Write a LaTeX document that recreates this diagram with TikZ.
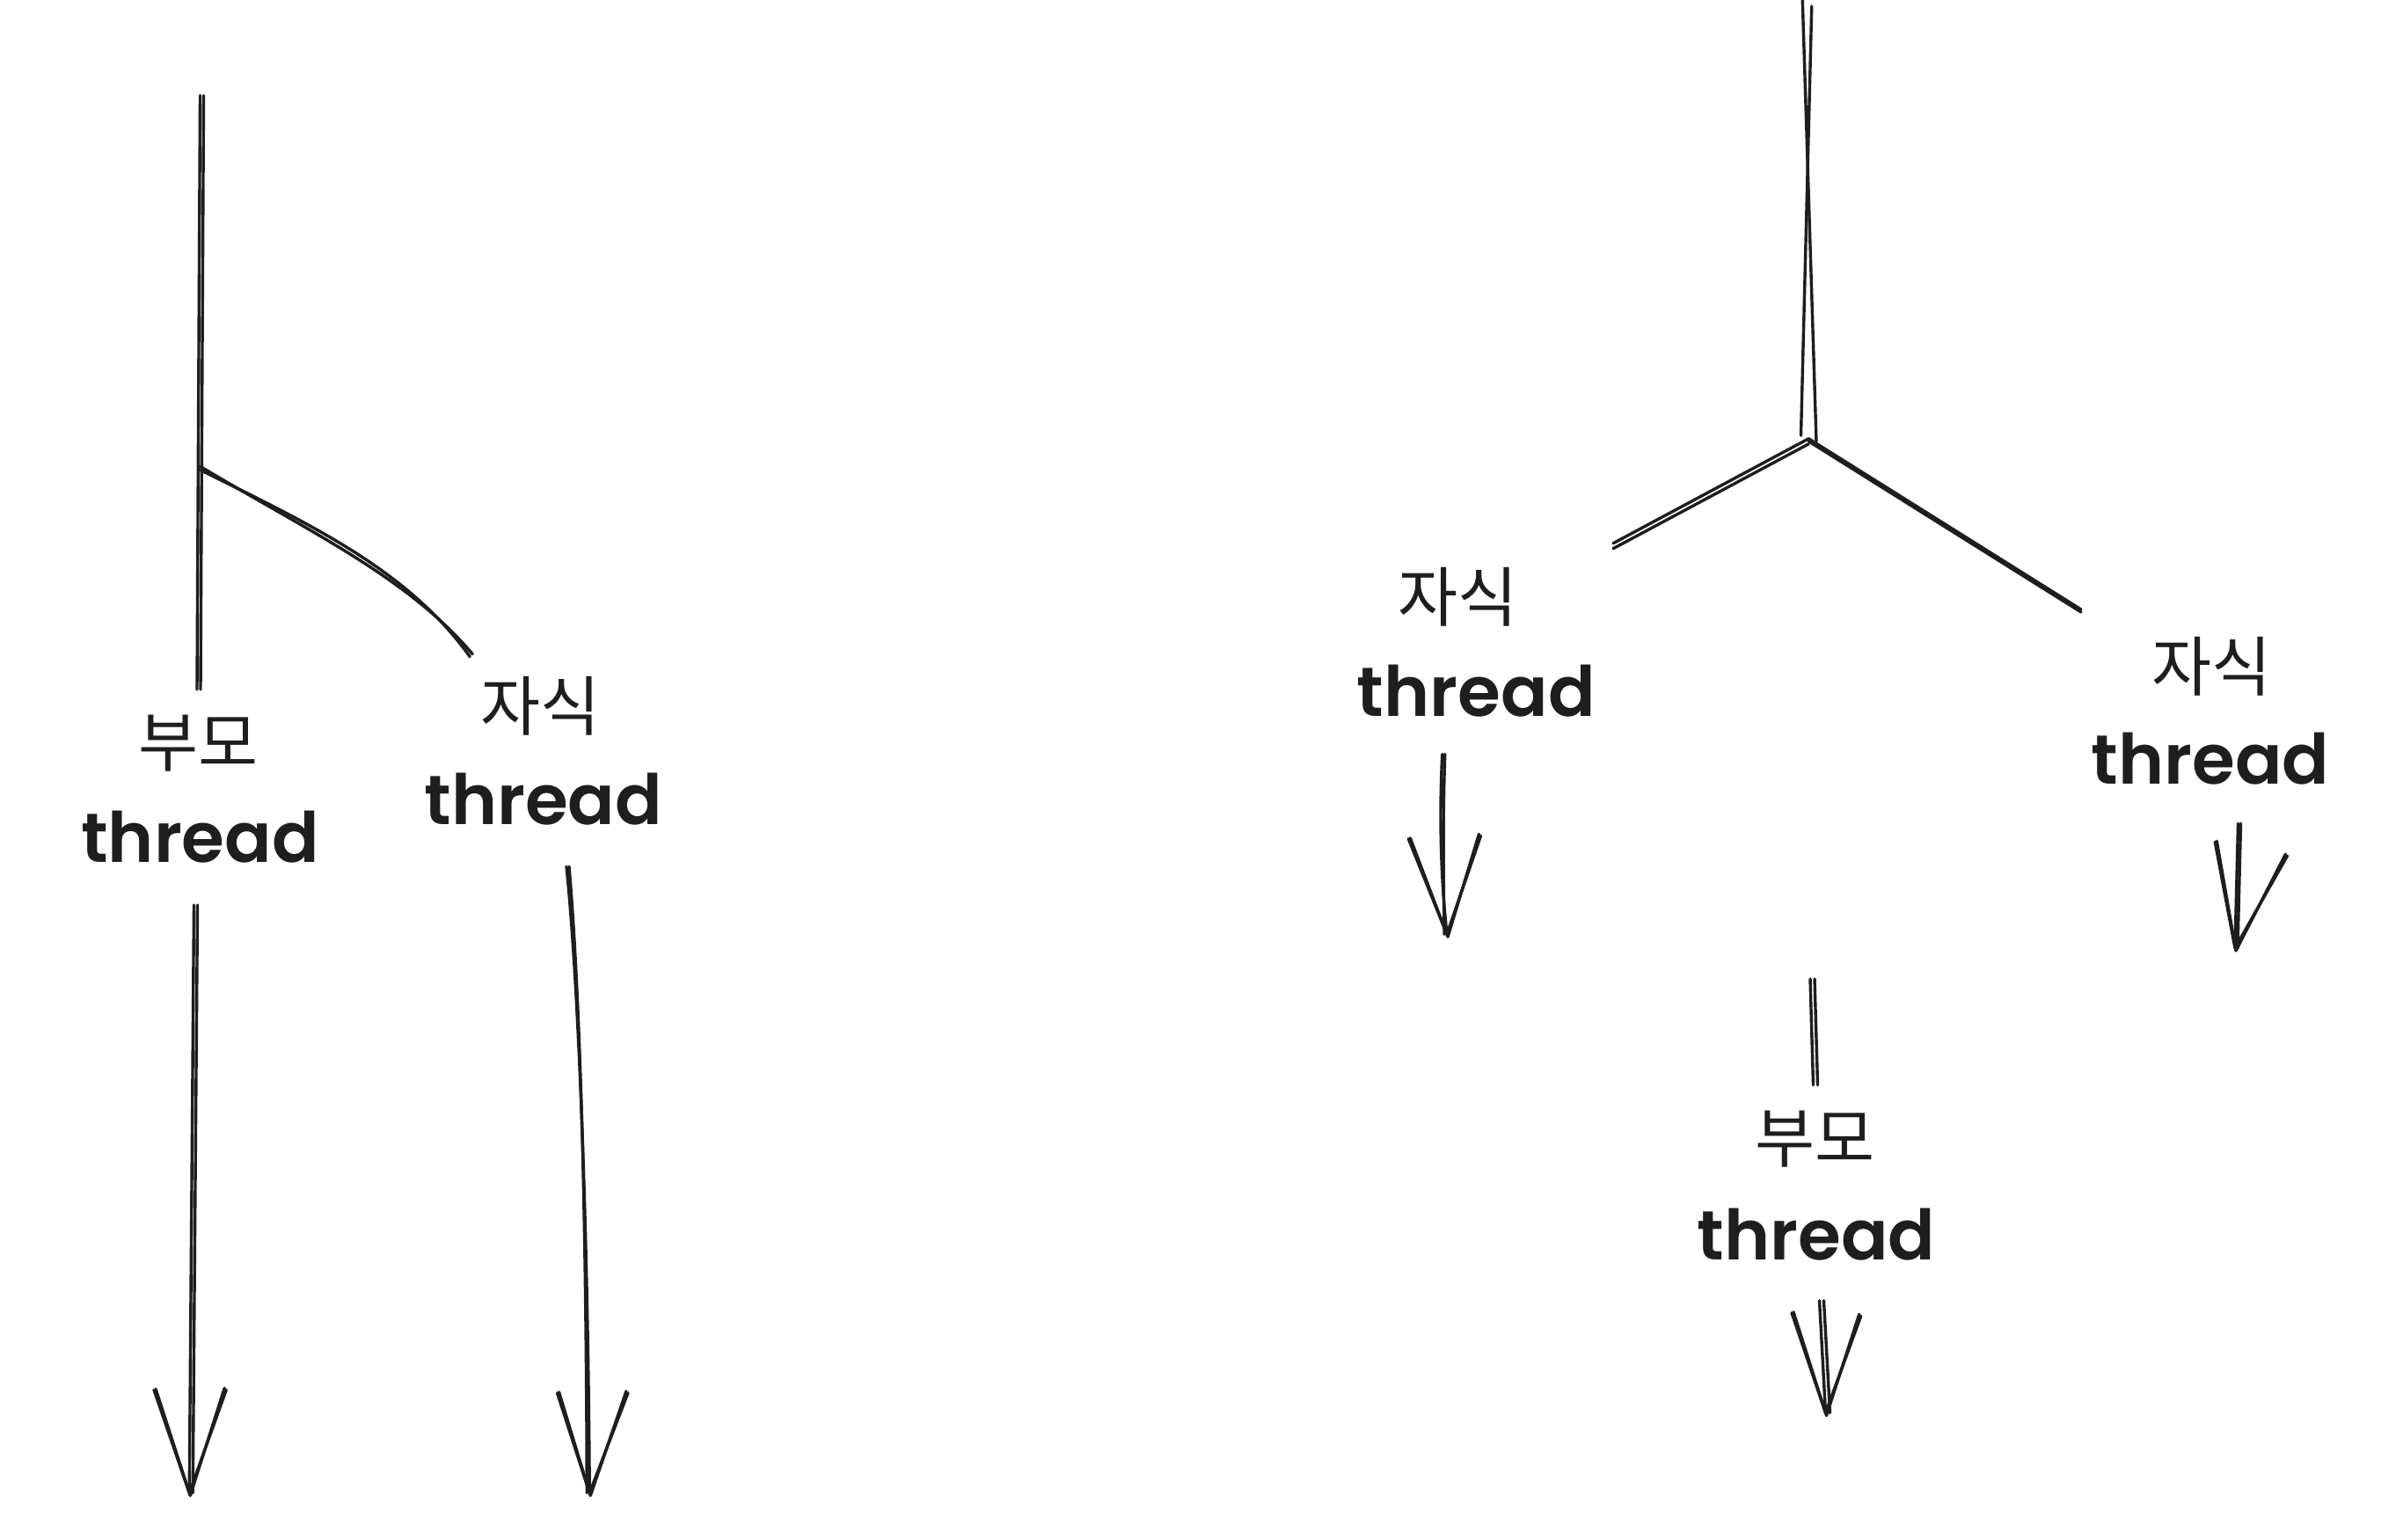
\documentclass[tikz,border=0pt]{standalone}
\usepackage{fontspec}
\newfontfamily\kofont{Noto Sans CJK KR}
\newfontfamily\thrfont{Poppins}[UprightFont=* SemiBold]
\definecolor{ink}{HTML}{1E1E1E}
\tikzset{
  sk/.style={draw=ink, line width=3.4pt, line cap=round, line join=round},
  ko/.style={inner sep=0pt, text=ink, font=\kofont\fontsize{74}{76}\selectfont},
  thr/.style={inner sep=0pt, text=ink, font=\thrfont\fontsize{79}{82}\selectfont}
}
\newcommand{\dbl}[3]{%
  \draw[sk] (#1) -- (#2);
  \draw[sk] ([xshift=#3]#1) -- ([xshift=#3]#2);}
\newcommand{\barbs}[3]{%
  \draw[sk] (#1) -- (#2) -- (#3);
  \draw[sk] ([shift={(2pt,1pt)}]#1) -- ([shift={(1pt,-3pt)}]#2) -- ([shift={(-2pt,2pt)}]#3);}
\begin{document}
\begin{tikzpicture}[x=1.75pt,y=-1.75pt]
\useasboundingbox (0,0) rectangle (1561.14,1000);
% ---------------- left diagram ----------------
\coordinate (pTop) at (130,62);
\coordinate (pSplit) at (130,303);
\coordinate (pEnd) at (128,448);
\coordinate (cEnd) at (307,425);
\node[ko]  (pLab) at (129,483) {부모};
\node[thr] (pThr) at (130,544) {thread};
\node[ko]  (cLab) at (351,459) {자식};
\node[thr] (cThr) at (353,519) {thread};
\coordinate (pA0) at (126,588);
\coordinate (pA1) at (123,970);
\coordinate (pBL) at (100,903);
\coordinate (pBR) at (147,903);
\coordinate (cA0) at (368,563);
\coordinate (cA1) at (383,970);
\coordinate (cBL) at (362,905);
\coordinate (cBR) at (408,905);

\dbl{pTop}{pEnd}{4pt}
\draw[sk] (pSplit) .. controls (200,345) and (265,375) .. (cEnd);
\draw[sk] ([yshift=-4pt]pSplit) .. controls (200,340) and (265,370) .. ([shift={(-3pt,-3pt)}]cEnd);
\dbl{pA0}{pA1}{4pt}
\barbs{pBL}{pA1}{pBR}
\draw[sk] (cA0) .. controls (376,640) and (382,800) .. (cA1);
\draw[sk] ([xshift=3pt]cA0) .. controls (378,660) and (381,820) .. ([xshift=-3pt]cA1);
\barbs{cBL}{cA1}{cBR}

% ---------------- right diagram ----------------
\coordinate (tA0) at (1171,0);
\coordinate (tA1) at (1180,287);
\coordinate (tB0) at (1177,4);
\coordinate (tB1) at (1170,283);
\coordinate (jn) at (1175,285);
\coordinate (lEnd) at (1048,353);
\coordinate (rEnd) at (1352,396);
\draw[sk] (tA0) -- (tA1);
\draw[sk] (tB0) -- (tB1);
\draw[sk] (jn) -- (lEnd);
\draw[sk] ([yshift=-6pt]jn) -- ([yshift=-6pt]lEnd);
\draw[sk] (jn) -- (rEnd);
\draw[sk] ([yshift=-3pt]jn) -- ([yshift=-3pt]rEnd);

\node[ko]  (c1Lab) at (947,388) {자식};
\node[thr] (c1Thr) at (959,449) {thread};
\coordinate (c1A0) at (937,490);
\coordinate (c1A1) at (940,607);
\coordinate (c1BL) at (915,545);
\coordinate (c1BR) at (962,543);
\draw[sk] (c1A0) .. controls (935,530) and (936,570) .. (c1A1);
\draw[sk] ([xshift=3pt]c1A0) .. controls (937,540) and (938,580) .. ([xshift=-3pt]c1A1);
\barbs{c1BL}{c1A1}{c1BR}

\node[ko]  (c2Lab) at (1437,433) {자식};
\node[thr] (c2Thr) at (1436,493) {thread};
\coordinate (c2A0) at (1454,535);
\coordinate (c2A1) at (1452,616);
\coordinate (c2BL) at (1439,547);
\coordinate (c2BR) at (1486,556);
\dbl{c2A0}{c2A1}{3pt}
\barbs{c2BL}{c2A1}{c2BR}

\coordinate (mT0) at (1176,636);
\coordinate (mT1) at (1178,705);
\node[ko]  (p2Lab) at (1179,740) {부모};
\node[thr] (p2Thr) at (1180,802) {thread};
\coordinate (mA0) at (1182,845);
\coordinate (mA1) at (1186,918);
\coordinate (mBL) at (1164,853);
\coordinate (mBR) at (1209,855);
\dbl{mT0}{mT1}{5pt}
\dbl{mA0}{mA1}{5pt}
\barbs{mBL}{mA1}{mBR}
\end{tikzpicture}
\end{document}
